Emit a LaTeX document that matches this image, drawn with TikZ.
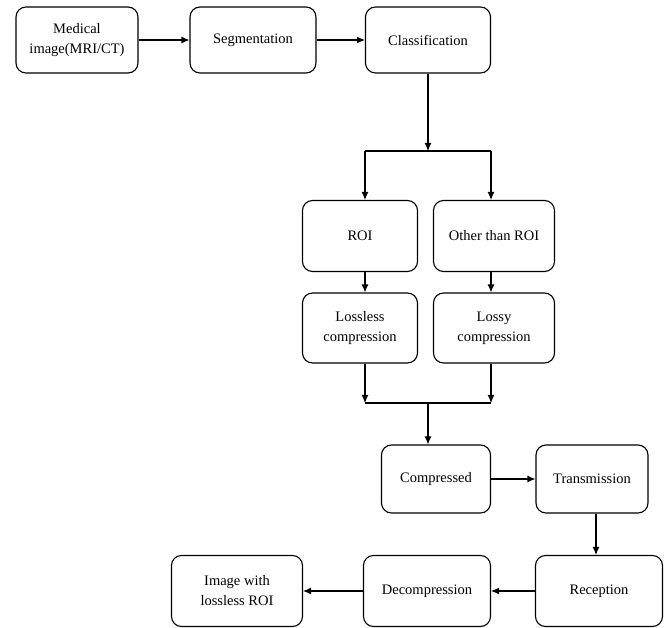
\documentclass[tikz,border=0pt]{standalone}
\usepackage{fontspec}
\setmainfont{Liberation Serif}
\usetikzlibrary{arrows.meta, positioning, calc}

\begin{document}
\begin{tikzpicture}[x=1pt, y=-1pt,
    box/.style = {draw, line width=1.1pt, rounded corners=10pt, align=center,
        minimum height=68pt, inner sep=2pt, font=\fontsize{14.5}{20}\selectfont},
    arr/.style = {line width=1.1pt, -{Latex[length=8pt, width=7pt]}},
    wire/.style = {line width=1.1pt}
    ]
    \useasboundingbox (0,0) rectangle (665,628);
    % top row
    \node[box, minimum width=122pt, minimum height=66pt] (med) at (77,40) {Medical\\image(MRI/CT)};
    \node[box, minimum width=126pt, minimum height=66pt] (seg) at (253,40) {Segmentation};
    \node[box, minimum width=125pt, minimum height=66pt] (cls) at (428,40) {Classification};
    % two branches
    \node[box, minimum width=115pt, minimum height=71pt] (roi) at (360,236) {ROI};
    \node[box, minimum width=121pt, minimum height=71pt] (other) at (494,236) {Other than ROI};
    \node[box, minimum width=115pt, minimum height=70pt] (lossless) at (360,328) {Lossless\\compression};
    \node[box, minimum width=121pt, minimum height=70pt] (lossy) at (494,328) {Lossy\\compression};
    % lower rows
    \node[box, minimum width=109pt] (comp) at (436,479) {Compressed};
    \node[box, minimum width=112pt] (trans) at (592,479) {Transmission};
    \node[box, minimum width=127pt, minimum height=71pt] (recep) at (599,591) {Reception};
    \node[box, minimum width=127pt, minimum height=71pt] (decomp) at (427,591) {Decompression};
    \node[box, minimum width=131pt, minimum height=71pt] (img) at (237,591) {Image with\\lossless ROI};

    \coordinate (splitl) at (365,151);
    \coordinate (splitr) at (491,151);
    \coordinate (mergel) at (365,403);
    \coordinate (merger) at (491,403);
    \coordinate (down) at ($(trans.south)+(4,0)$);

    \draw[arr] (med) -- (seg);
    \draw[arr] (seg) -- (cls);
    \draw[arr] (cls.south) -- (cls.south |- splitl);
    \draw[wire] (splitl) -- (splitr);
    \draw[arr] (splitl) -- (splitl |- roi.north);
    \draw[arr] (splitr) -- (splitr |- other.north);
    \draw[arr] (splitl |- roi.south) -- (splitl |- lossless.north);
    \draw[arr] (splitr |- other.south) -- (splitr |- lossy.north);
    \draw[arr] (mergel |- lossless.south) -- (mergel);
    \draw[arr] (merger |- lossy.south) -- (merger);
    \draw[wire] (mergel) -- (merger);
    \draw[arr] (cls.south |- mergel) -- (cls.south |- comp.north);
    \draw[arr] (comp) -- (trans);
    \draw[arr] (down) -- (down |- recep.north);
    \draw[arr] (recep) -- (decomp);
    \draw[arr] (decomp) -- (img);
\end{tikzpicture}
\end{document}
